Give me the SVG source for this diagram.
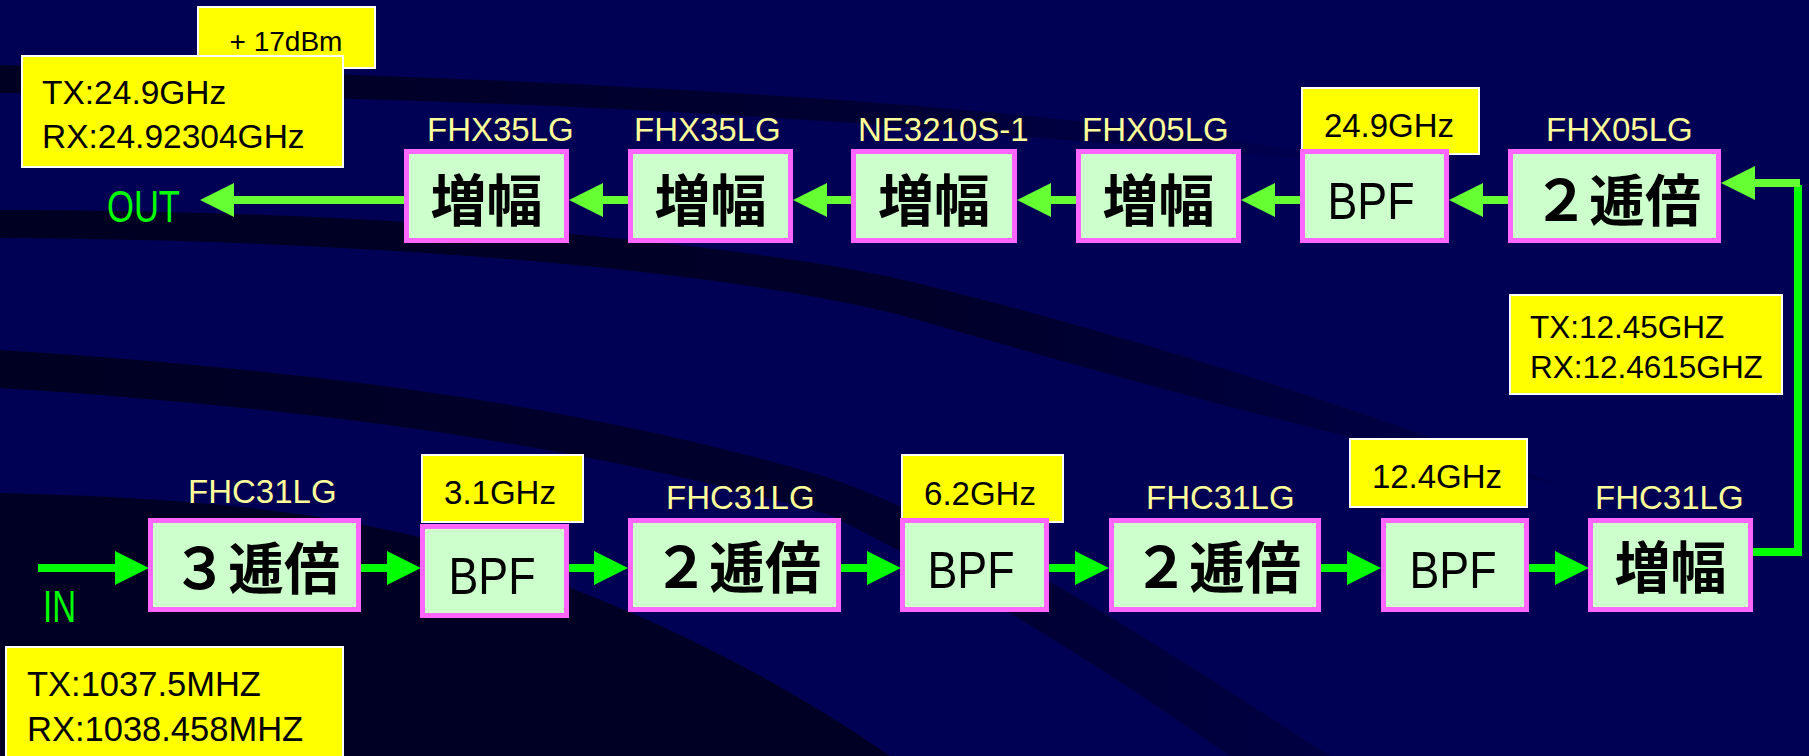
<svg xmlns="http://www.w3.org/2000/svg" width="1809" height="756" viewBox="0 0 1809 756">
<style>
.bg{fill:#000055}
.box{fill:#ccffcc;stroke:#ff66ff;stroke-width:5}
.note{fill:#ffff00;stroke:#ffffff;stroke-width:2}
.lbl{font-family:"Liberation Sans",Arial,sans-serif;font-size:33px;fill:#ffff99}
.ntxt{font-family:"Liberation Sans",Arial,sans-serif;font-size:33px;fill:#000000}
.cjk{font-family:"Noto Sans CJK JP","Noto Sans CJK SC",sans-serif;font-weight:bold;font-size:56px;fill:#000000;text-anchor:middle}
.bpf{font-family:"Liberation Sans",Arial,sans-serif;font-size:52px;fill:#000000;text-anchor:middle}
.io{font-family:"Liberation Sans",Arial,sans-serif;font-size:44px;fill:#00ff00}
.c1{fill:none;stroke:#66ff33;stroke-width:8}
.c2{fill:none;stroke:#00ff00;stroke-width:8}
</style>
<defs>
<marker id="h1" viewBox="0 0 34 34" refX="0" refY="17" markerWidth="34" markerHeight="34" markerUnits="userSpaceOnUse" orient="auto"><path d="M0,0 L34,17 L0,34 Z" fill="#66ff33"/></marker>
<marker id="h2" viewBox="0 0 34 34" refX="0" refY="17" markerWidth="34" markerHeight="34" markerUnits="userSpaceOnUse" orient="auto"><path d="M0,0 L34,17 L0,34 Z" fill="#00ff00"/></marker>
<linearGradient id="fadeA" gradientUnits="userSpaceOnUse" x1="0" y1="0" x2="1400" y2="0"><stop offset="0" stop-color="#000022"/><stop offset="0.6" stop-color="#000022" stop-opacity="0.7"/><stop offset="1" stop-color="#000022" stop-opacity="0"/></linearGradient>
<linearGradient id="fadeB" gradientUnits="userSpaceOnUse" x1="0" y1="0" x2="1560" y2="0"><stop offset="0" stop-color="#000022"/><stop offset="0.6" stop-color="#000022" stop-opacity="0.85"/><stop offset="1" stop-color="#000022" stop-opacity="0.2"/></linearGradient>
<linearGradient id="fadeC" gradientUnits="userSpaceOnUse" x1="0" y1="0" x2="1330" y2="0"><stop offset="0" stop-color="#000022"/><stop offset="0.7" stop-color="#000026" stop-opacity="0.8"/><stop offset="1" stop-color="#000030" stop-opacity="0.5"/></linearGradient>
</defs>

<g id="background">
<rect class="bg" x="0" y="0" width="1809" height="756"/>
<path fill="url(#fadeA)" d="M0,65 C350,72 700,86 1000,113 C1150,128 1280,146 1380,164 C1280,158 1150,146 1000,135 C700,108 350,95 0,93 Z"/>
<path fill="url(#fadeB)" d="M0,210 C404,210 750,245 904,280 C1050,315 1300,385 1560,485 C1300,430 1100,372 904,316 C750,275 404,240 0,238 Z"/>
<path fill="url(#fadeC)" d="M0,350 C346,372 600,410 830,478 C1000,540 1150,640 1330,756 L1230,756 C1120,680 1000,600 830,515 C600,450 346,410 0,388 Z"/>
<path fill="#000024" d="M0,493 C200,498 330,512 450,545 C650,610 780,680 890,756 L0,756 Z"/>
</g>

<g id="connectors">
<path class="c1" d="M404,200 H234" marker-end="url(#h1)"/>
<path class="c1" d="M628,200 H603" marker-end="url(#h1)"/>
<path class="c1" d="M851,200 H827" marker-end="url(#h1)"/>
<path class="c1" d="M1076,200 H1051" marker-end="url(#h1)"/>
<path class="c1" d="M1300,200 H1275" marker-end="url(#h1)"/>
<path class="c1" d="M1508,200 H1483" marker-end="url(#h1)"/>
<path class="c2" d="M1753,552 H1798 V185"/>
<path class="c1" d="M1800,183 H1755" marker-end="url(#h1)"/>
<path class="c2" d="M38,568 H115" marker-end="url(#h2)"/>
<path class="c2" d="M361,568 H387" marker-end="url(#h2)"/>
<path class="c2" d="M569,568 H594" marker-end="url(#h2)"/>
<path class="c2" d="M841,568 H867" marker-end="url(#h2)"/>
<path class="c2" d="M1049,568 H1075" marker-end="url(#h2)"/>
<path class="c2" d="M1321,568 H1347" marker-end="url(#h2)"/>
<path class="c2" d="M1529,568 H1555" marker-end="url(#h2)"/>
</g>

<g id="note-17dbm">
<rect class="note" x="198" y="7" width="177" height="61"/>
<text class="ntxt" x="286" y="51" style="font-size:28px" text-anchor="middle">+ 17dBm</text>
</g>
<g id="note-out-freq">
<rect class="note" x="22" y="56" width="321" height="111"/>
<text class="ntxt" x="42" y="104" style="font-size:33.5px">TX:24.9GHz</text>
<text class="ntxt" x="42" y="148" style="font-size:33.5px">RX:24.92304GHz</text>
</g>
<g id="note-249">
<rect class="note" x="1302" y="88" width="177" height="66"/>
<text class="ntxt" x="1389" y="137" text-anchor="middle">24.9GHz</text>
</g>
<g id="note-1245">
<rect class="note" x="1510" y="295" width="272" height="99"/>
<text class="ntxt" x="1530" y="338" style="font-size:31.5px">TX:12.45GHZ</text>
<text class="ntxt" x="1530" y="378" style="font-size:31.5px">RX:12.4615GHZ</text>
</g>
<g id="note-31">
<rect class="note" x="422" y="455" width="161" height="67"/>
<text class="ntxt" x="500" y="504" text-anchor="middle">3.1GHz</text>
</g>
<g id="note-62">
<rect class="note" x="902" y="455" width="161" height="67"/>
<text class="ntxt" x="980" y="505" text-anchor="middle">6.2GHz</text>
</g>
<g id="note-124">
<rect class="note" x="1350" y="439" width="177" height="68"/>
<text class="ntxt" x="1437" y="488" text-anchor="middle">12.4GHz</text>
</g>
<g id="note-in-freq">
<rect class="note" x="6" y="647" width="337" height="120"/>
<text class="ntxt" x="27" y="696" style="font-size:34.5px">TX:1037.5MHZ</text>
<text class="ntxt" x="27" y="741" style="font-size:34.5px">RX:1038.458MHZ</text>
</g>

<g id="out-label"><text class="io" x="107" y="222" textLength="73" lengthAdjust="spacingAndGlyphs">OUT</text></g>
<g id="in-label"><text class="io" x="43" y="622" textLength="33" lengthAdjust="spacingAndGlyphs">IN</text></g>

<g id="t1">
<text class="lbl" x="427" y="141">FHX35LG</text>
<rect class="box" x="406.5" y="151.5" width="160" height="89"/>
<text class="cjk" x="486.5" y="221">増幅</text>
</g>
<g id="t2">
<text class="lbl" x="634" y="141">FHX35LG</text>
<rect class="box" x="630.5" y="151.5" width="160" height="89"/>
<text class="cjk" x="710.5" y="221">増幅</text>
</g>
<g id="t3">
<text class="lbl" x="858" y="141">NE3210S-1</text>
<rect class="box" x="853.5" y="151.5" width="161" height="89"/>
<text class="cjk" x="934" y="221">増幅</text>
</g>
<g id="t4">
<text class="lbl" x="1082" y="141">FHX05LG</text>
<rect class="box" x="1078.5" y="151.5" width="160" height="89"/>
<text class="cjk" x="1158.5" y="221">増幅</text>
</g>
<g id="t5">
<rect class="box" x="1302.5" y="151.5" width="144" height="89"/>
<text class="bpf" x="1371" y="219" textLength="87" lengthAdjust="spacingAndGlyphs">BPF</text>
</g>
<g id="t6">
<text class="lbl" x="1546" y="141">FHX05LG</text>
<rect class="box" x="1510.5" y="151.5" width="208" height="89"/>
<text class="cjk" x="1617" y="221">２逓倍</text>
</g>

<g id="b1">
<text class="lbl" x="188" y="503">FHC31LG</text>
<rect class="box" x="150.5" y="520.5" width="208" height="89"/>
<text class="cjk" x="256" y="589">３逓倍</text>
</g>
<g id="b2">
<rect class="box" x="422.5" y="526.5" width="144" height="89"/>
<text class="bpf" x="492" y="594" textLength="87" lengthAdjust="spacingAndGlyphs">BPF</text>
</g>
<g id="b3">
<text class="lbl" x="666" y="509">FHC31LG</text>
<rect class="box" x="630.5" y="520.5" width="208" height="89"/>
<text class="cjk" x="737" y="588">２逓倍</text>
</g>
<g id="b4">
<rect class="box" x="902.5" y="520.5" width="144" height="89"/>
<text class="bpf" x="971" y="588" textLength="87" lengthAdjust="spacingAndGlyphs">BPF</text>
</g>
<g id="b5">
<text class="lbl" x="1146" y="509">FHC31LG</text>
<rect class="box" x="1111.5" y="520.5" width="207" height="89"/>
<text class="cjk" x="1217" y="588">２逓倍</text>
</g>
<g id="b6">
<rect class="box" x="1383.5" y="520.5" width="143" height="89"/>
<text class="bpf" x="1453" y="588" textLength="87" lengthAdjust="spacingAndGlyphs">BPF</text>
</g>
<g id="b7">
<text class="lbl" x="1595" y="509">FHC31LG</text>
<rect class="box" x="1590.5" y="520.5" width="160" height="89"/>
<text class="cjk" x="1670.5" y="588">増幅</text>
</g>
</svg>
